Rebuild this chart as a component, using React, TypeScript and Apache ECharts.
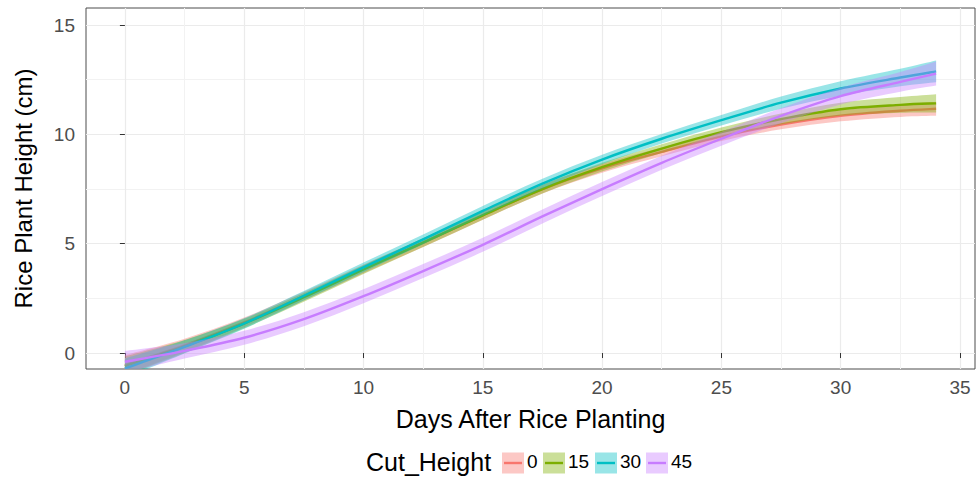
import React, { useEffect, useRef } from "react";
import * as echarts from "echarts";

// ---- data ----
const days = [0, 2.5, 5, 7.5, 10, 12.5, 15, 17.5, 20, 22.5, 25, 27.5, 30, 32.5, 34];
const groups = ["0", "15", "30", "45"];
const groupColors = ["#F8766D", "#7CAE00", "#00BFC4", "#C77CFF"];

const fit0 = [-0.55, 0.35, 1.4, 2.6, 3.85, 5.05, 6.3, 7.5, 8.45, 9.2, 9.9, 10.45, 10.85, 11.08, 11.17];
const fit15 = [-0.6, 0.3, 1.35, 2.55, 3.82, 5.05, 6.3, 7.5, 8.5, 9.35, 10.1, 10.7, 11.15, 11.35, 11.42];
const fit30 = [-0.7, 0.28, 1.35, 2.62, 3.92, 5.2, 6.5, 7.75, 8.85, 9.8, 10.65, 11.45, 12.1, 12.6, 12.88];
const fit45 = [-0.4, 0.1, 0.7, 1.55, 2.6, 3.75, 4.95, 6.25, 7.5, 8.7, 9.8, 10.85, 11.75, 12.4, 12.78];

const ci0 = [0.45, 0.3, 0.22, 0.2, 0.2, 0.2, 0.2, 0.2, 0.2, 0.2, 0.2, 0.22, 0.25, 0.28, 0.32];
const ci15 = [0.45, 0.3, 0.22, 0.2, 0.2, 0.2, 0.2, 0.2, 0.2, 0.2, 0.22, 0.25, 0.3, 0.36, 0.42];
const ci30 = [0.45, 0.3, 0.24, 0.22, 0.22, 0.22, 0.22, 0.22, 0.22, 0.22, 0.24, 0.28, 0.33, 0.4, 0.5];
const ci45 = [0.5, 0.35, 0.32, 0.32, 0.32, 0.32, 0.32, 0.32, 0.32, 0.32, 0.32, 0.34, 0.38, 0.45, 0.55];

const xTicks = [0, 5, 10, 15, 20, 25, 30, 35];
const xMinorTicks = [2.5, 7.5, 12.5, 17.5, 22.5, 27.5, 32.5];
const yTicks = [0, 5, 10, 15];
const yMinorTicks = [2.5, 7.5, 12.5];

const xTitle = "Days After Rice Planting";
const yTitle = "Rice Plant Height (cm)";
const legendTitle = "Cut_Height";

const fits = [fit0, fit15, fit30, fit45];
const cis = [ci0, ci15, ci30, ci45];

const FONT = "'Liberation Sans', Arial, Helvetica, sans-serif";
const X_MIN = -1.63;
const X_MAX = 35.63;
const Y_MIN = -0.73;
const Y_MAX = 15.78;

function hexA(hex: string, a: number) {
  const r = parseInt(hex.slice(1, 3), 16);
  const g = parseInt(hex.slice(3, 5), 16);
  const b = parseInt(hex.slice(5, 7), 16);
  return `rgba(${r},${g},${b},${a})`;
}

// Catmull-Rom style smooth path through screen points
function curvePath(pts: number[][], moveFirst: boolean) {
  let d = moveFirst ? `M${pts[0][0]},${pts[0][1]}` : `L${pts[0][0]},${pts[0][1]}`;
  for (let i = 0; i < pts.length - 1; i++) {
    const p0 = pts[Math.max(0, i - 1)];
    const p1 = pts[i];
    const p2 = pts[i + 1];
    const p3 = pts[Math.min(pts.length - 1, i + 2)];
    const c1x = p1[0] + (p2[0] - p0[0]) / 6;
    const c1y = p1[1] + (p2[1] - p0[1]) / 6;
    const c2x = p2[0] - (p3[0] - p1[0]) / 6;
    const c2y = p2[1] - (p3[1] - p1[1]) / 6;
    d += ` C${c1x},${c1y} ${c2x},${c2y} ${p2[0]},${p2[1]}`;
  }
  return d;
}

export default function App() {
  const ref = useRef<HTMLDivElement>(null);
  useEffect(() => {
    if (!ref.current) return;
    const chart = echarts.init(ref.current, undefined, { renderer: "svg" });

    const series: any[] = [];
    groups.forEach((g, i) => {
      const bandData = days.map((d, k) => [d, fits[i][k] - cis[i][k], fits[i][k] + cis[i][k]]);
      const lineData = days.map((d, k) => [d, fits[i][k]]);
      series.push({
        type: "custom",
        name: "band" + g,
        data: bandData,
        encode: { x: 0, y: [1, 2] },
        clip: true,
        silent: true,
        renderItem: (params: any, api: any) => {
          if (params.dataIndex !== 0) return null;
          const up = bandData.map((r) => api.coord([r[0], r[2]]));
          const lo = bandData.map((r) => api.coord([r[0], r[1]])).reverse();
          const pathData = curvePath(up, true) + " " + curvePath(lo, false) + " Z";
          return {
            type: "path",
            shape: { pathData },
            style: { fill: hexA(groupColors[i], 0.4), stroke: "none" },
          };
        },
      });
      series.push({
        type: "custom",
        name: g,
        data: lineData,
        encode: { x: 0, y: 1 },
        clip: true,
        silent: true,
        renderItem: (params: any, api: any) => {
          if (params.dataIndex !== 0) return null;
          const pts = lineData.map((r) => api.coord([r[0], r[1]]));
          return {
            type: "path",
            shape: { pathData: curvePath(pts, true) },
            style: { fill: "none", stroke: groupColors[i], lineWidth: 2.4 },
          };
        },
      });
    });

    // legend drawn as graphic
    const keyX = [502, 543, 595, 646];
    const legendY = 463;
    const graphic: any[] = [
      {
        type: "text",
        left: 366,
        top: legendY - 14,
        style: { text: legendTitle, font: `25px ${FONT}`, fill: "#000" },
      },
    ];
    groups.forEach((g, i) => {
      graphic.push({
        type: "rect",
        shape: { x: keyX[i], y: legendY - 10.5, width: 22, height: 21 },
        style: { fill: hexA(groupColors[i], 0.4) },
      });
      graphic.push({
        type: "line",
        shape: { x1: keyX[i] + 2, y1: legendY, x2: keyX[i] + 20, y2: legendY },
        style: { stroke: groupColors[i], lineWidth: 2.4 },
      });
      graphic.push({
        type: "text",
        left: keyX[i] + 25,
        top: legendY - 11,
        style: { text: g, font: `19px ${FONT}`, fill: "#000" },
      });
    });

    chart.setOption({
      animation: false,
      textStyle: { fontFamily: FONT },
      grid: {
        left: 86,
        top: 8,
        width: 889,
        height: 361,
        show: true,
        borderColor: "#4d4d4d",
        borderWidth: 1,
        backgroundColor: "transparent",
        containLabel: false,
      },
      xAxis: [
        {
          type: "value",
          min: X_MIN,
          max: X_MAX,
          position: "bottom",
          axisLine: { show: false },
          axisTick: {
            show: true,
            customValues: xTicks,
            length: 5,
            lineStyle: { color: "#333", width: 1 },
          },
          axisLabel: {
            customValues: xTicks,
            color: "#4D4D4D",
            fontSize: 19,
            margin: 9,
            fontFamily: FONT,
          },
          splitLine: { show: true, lineStyle: { color: "#EBEBEB", width: 1.2 } },
          name: xTitle,
          nameLocation: "middle",
          nameGap: 37,
          nameTextStyle: { fontSize: 25, color: "#000", fontFamily: FONT },
          z: 0,
        },
        {
          type: "value",
          min: X_MIN,
          max: X_MAX,
          position: "top",
          axisLine: { show: false },
          axisTick: { show: false, customValues: xMinorTicks },
          axisLabel: { show: false, customValues: xMinorTicks },
          splitLine: { show: true, lineStyle: { color: "#F2F2F2", width: 1 } },
          z: 0,
        },
      ],
      yAxis: [
        {
          type: "value",
          min: Y_MIN,
          max: Y_MAX,
          position: "left",
          axisLine: { show: false },
          axisTick: {
            show: true,
            customValues: yTicks,
            length: 5,
            lineStyle: { color: "#333", width: 1 },
          },
          axisLabel: {
            customValues: yTicks,
            color: "#4D4D4D",
            fontSize: 19,
            margin: 11,
            fontFamily: FONT,
          },
          splitLine: { show: true, lineStyle: { color: "#EBEBEB", width: 1.2 } },
          name: yTitle,
          nameLocation: "middle",
          nameRotate: 90,
          nameGap: 51,
          nameTextStyle: { fontSize: 24, color: "#000", fontFamily: FONT },
          z: 0,
        },
        {
          type: "value",
          min: Y_MIN,
          max: Y_MAX,
          position: "right",
          axisLine: { show: false },
          axisTick: { show: false, customValues: yMinorTicks },
          axisLabel: { show: false, customValues: yMinorTicks },
          splitLine: { show: true, lineStyle: { color: "#F2F2F2", width: 1 } },
          z: 0,
        },
      ],
      series,
      graphic,
    });

    return () => chart.dispose();
  }, []);

  return (
    <div
      ref={ref}
      style={{ position: "fixed", left: 0, top: 0, width: 976, height: 482, background: "#fff" }}
    />
  );
}
